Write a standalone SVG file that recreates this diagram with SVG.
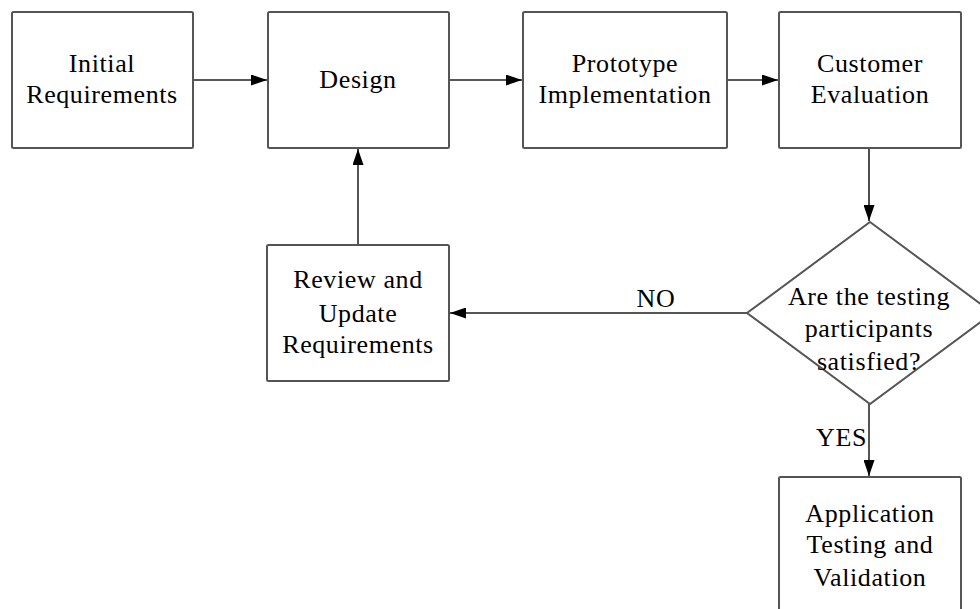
<svg xmlns="http://www.w3.org/2000/svg" width="980" height="609" viewBox="0 0 980 609">
  <defs>
    <marker id="arrow" viewBox="0 0 16 11" refX="16" refY="5.5" markerWidth="16" markerHeight="11" markerUnits="userSpaceOnUse" orient="auto">
      <path d="M0,0 L16,5.5 L0,11 Z" fill="#000"/>
    </marker>
  </defs>
  <style>
    .box { fill: #fff; stroke: #555; stroke-width: 2; }
    .label { font-family: "Liberation Serif", "Times New Roman", serif; font-size: 26px; letter-spacing: 0.6px; fill: #000; text-anchor: middle; }
    .edge { fill: none; stroke: #222; stroke-width: 1.6; marker-end: url(#arrow); }
    .edge-gray { fill: none; stroke: #555; stroke-width: 2; marker-end: url(#arrow); }
  </style>
  <rect width="980" height="609" fill="#fff"/>

  <g id="connectors">
    <line class="edge" x1="193" y1="80" x2="267" y2="80"/>
    <line class="edge" x1="449" y1="80" x2="522" y2="80"/>
    <line class="edge" x1="727" y1="80" x2="778" y2="80"/>
    <line class="edge" x1="869" y1="148" x2="869" y2="221"/>
    <line class="edge-gray" x1="747" y1="313" x2="450" y2="313"/>
    <line class="edge-gray" x1="358" y1="245" x2="358" y2="149"/>
    <line class="edge-gray" x1="869" y1="404" x2="869" y2="476"/>
    <text class="label" x="656" y="307">NO</text>
    <text class="label" x="867" y="446" style="text-anchor:end">YES</text>
  </g>

  <g id="initial-requirements">
    <rect class="box" x="12" y="12" width="181" height="136" rx="1.5"/>
    <text class="label" x="102" y="72">Initial</text>
    <text class="label" x="102" y="103">Requirements</text>
  </g>

  <g id="design">
    <rect class="box" x="268" y="12" width="181" height="136" rx="1.5"/>
    <text class="label" x="358" y="88">Design</text>
  </g>

  <g id="prototype-implementation">
    <rect class="box" x="523" y="12" width="204" height="136" rx="1.5"/>
    <text class="label" x="625" y="72">Prototype</text>
    <text class="label" x="625" y="103">Implementation</text>
  </g>

  <g id="customer-evaluation">
    <rect class="box" x="779" y="12" width="182" height="136" rx="1.5"/>
    <text class="label" x="870" y="72">Customer</text>
    <text class="label" x="870" y="103">Evaluation</text>
  </g>

  <g id="decision">
    <polygon class="box" points="870,222 993,313 870,404 747,313"/>
    <text class="label" x="869" y="305">Are the testing</text>
    <text class="label" x="869" y="337">participants</text>
    <text class="label" x="869" y="370">satisfied?</text>
  </g>

  <g id="review-update">
    <rect class="box" x="267" y="245" width="182" height="136" rx="1.5"/>
    <text class="label" x="358" y="288">Review and</text>
    <text class="label" x="358" y="322">Update</text>
    <text class="label" x="358" y="353">Requirements</text>
  </g>

  <g id="application-testing">
    <rect class="box" x="779" y="477" width="182" height="150" rx="1.5"/>
    <text class="label" x="870" y="522">Application</text>
    <text class="label" x="870" y="553">Testing and</text>
    <text class="label" x="870" y="586">Validation</text>
  </g>
</svg>
